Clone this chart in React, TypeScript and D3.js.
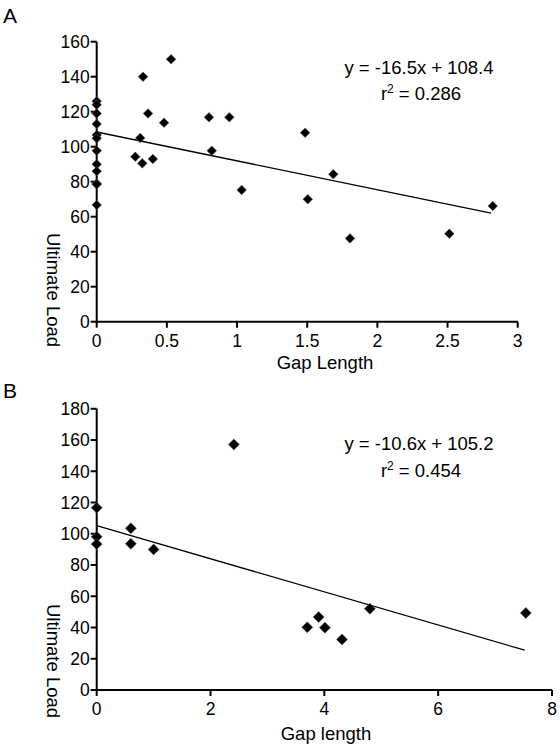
import React from "react";
import * as d3 from "d3";

// Panel A data
const gapA = [0, 0, 0, 0, 0, 0, 0, 0, 0, 0, 0, 0, 0.53, 0.33, 0.366, 0.48, 0.31, 0.275, 0.325, 0.4, 0.8, 0.945, 0.82, 1.485, 1.686, 1.033, 1.504, 1.805, 2.513, 2.822];
const loadA = [126, 124, 119, 113, 106.7, 104.8, 97.7, 90, 86, 79, 78.5, 66.7, 150, 140, 119, 113.7, 105, 94.3, 90.5, 93, 116.8, 116.8, 97.7, 108, 84.3, 75.3, 70, 47.6, 50.3, 66.1];
const fitA = { slope: -16.5, intercept: 108.4, xEnd: 2.81 };
const ticksXA = [0, 0.5, 1, 1.5, 2, 2.5, 3];
const ticksYA = [0, 20, 40, 60, 80, 100, 120, 140, 160];

// Panel B data
const gapB = [0, 0, 0, 0.6, 0.6, 1.0, 2.41, 3.7, 3.9, 4.01, 4.31, 4.8, 7.54];
const loadB = [116.7, 98.1, 93.4, 103.5, 93.6, 90, 157.2, 40.1, 46.7, 39.9, 32.4, 52, 49.3];
const fitB = { slope: -10.6, intercept: 105.2, xEnd: 7.52 };
const ticksXB = [0, 2, 4, 6, 8];
const ticksYB = [0, 20, 40, 60, 80, 100, 120, 140, 160, 180];

const FONT = "'Liberation Sans', Arial, sans-serif";

type PanelProps = {
  letter: string;
  letterY: number;
  xs: number[];
  ys: number[];
  fit: { slope: number; intercept: number; xEnd: number };
  xTicks: number[];
  yTicks: number[];
  xDomain: [number, number];
  yDomain: [number, number];
  xRange: [number, number];
  yRange: [number, number];
  xLabel: string;
  xLabelX: number;
  xLabelY: number;
  yLabelY: number;
  eq: string;
  r2: string;
  eqX: number;
  eqY: number;
  r2Gap: number;
  marker: number;
};

function Panel(p: PanelProps) {
  const x = d3.scaleLinear().domain(p.xDomain).range(p.xRange);
  const y = d3.scaleLinear().domain(p.yDomain).range(p.yRange);
  const y0 = p.yRange[0];
  const x0 = p.xRange[0];
  const line = d3.line<number>().x((d) => x(d)).y((d) => y(p.fit.slope * d + p.fit.intercept));
  const fmt = (v: number) => String(v);
  const m = p.marker;
  return (
    <g fontFamily={FONT} fill="#000">
      <text x={3} y={p.letterY} fontSize={21}>{p.letter}</text>
      <line x1={x0} x2={x0} y1={y0 + 1} y2={p.yRange[1]} stroke="#000" strokeWidth={2} />
      <line x1={x0 - 1} x2={p.xRange[1]} y1={y0} y2={y0} stroke="#000" strokeWidth={2} />
      {p.yTicks.map((t) => (
        <g key={"y" + t}>
          <line x1={x0 - 6} x2={x0} y1={y(t)} y2={y(t)} stroke="#000" strokeWidth={2} />
          <text x={x0 - 7} y={y(t)} dy="0.36em" textAnchor="end" fontSize={17.5}>{fmt(t)}</text>
        </g>
      ))}
      {p.xTicks.map((t) => (
        <g key={"x" + t}>
          <line x1={x(t)} x2={x(t)} y1={y0} y2={y0 + 6} stroke="#000" strokeWidth={2} />
          <text x={x(t)} y={y0 + 25} textAnchor="middle" fontSize={17.5}>{fmt(t)}</text>
        </g>
      ))}
      <text x={p.xLabelX} y={p.xLabelY} textAnchor="middle" fontSize={18.5}>{p.xLabel}</text>
      <text transform={`translate(47,${p.yLabelY}) rotate(90)`} textAnchor="middle" fontSize={18.5}>Ultimate Load</text>
      <path d={line([0, p.fit.xEnd]) || ""} stroke="#000" strokeWidth={1.3} fill="none" />
      {p.xs.map((gx, i) => {
        const cx = x(gx);
        const cy = y(p.ys[i]);
        return (
          <path
            key={i}
            d={`M${cx},${cy - m}L${cx + m},${cy}L${cx},${cy + m}L${cx - m},${cy}Z`}
            fill="#000"
            stroke="#555"
            strokeWidth={0.6}
          />
        );
      })}
      <text x={p.eqX} y={p.eqY} textAnchor="middle" fontSize={18.5}>{p.eq}</text>
      <text x={p.eqX + 2} y={p.eqY + p.r2Gap} textAnchor="middle" fontSize={18.5}>
        r<tspan fontSize={12} dy={-7}>2</tspan><tspan dy={7}> = {p.r2}</tspan>
      </text>
    </g>
  );
}

export default function App() {
  return (
    <svg width={560} height={747} style={{ position: "absolute", left: 0, top: 0, background: "#fff" }}>
      <rect width={560} height={747} fill="#fff" />
      <Panel
        letter="A"
        letterY={23}
        xs={gapA}
        ys={loadA}
        fit={fitA}
        xTicks={ticksXA}
        yTicks={ticksYA}
        xDomain={[0, 3]}
        yDomain={[0, 160]}
        xRange={[96.7, 517.7]}
        yRange={[321.7, 41.7]}
        xLabel="Gap Length"
        xLabelX={325}
        xLabelY={369}
        yLabelY={290}
        eq="y = -16.5x + 108.4"
        r2="0.286"
        eqX={419}
        eqY={74}
        r2Gap={25.5}
        marker={4.8}
      />
      <Panel
        letter="B"
        letterY={398}
        xs={gapB}
        ys={loadB}
        fit={fitB}
        xTicks={ticksXB}
        yTicks={ticksYB}
        xDomain={[0, 8]}
        yDomain={[0, 180]}
        xRange={[96.7, 552]}
        yRange={[690, 408.75]}
        xLabel="Gap length"
        xLabelX={326}
        xLabelY={740}
        yLabelY={661}
        eq="y = -10.6x + 105.2"
        r2="0.454"
        eqX={419}
        eqY={450}
        r2Gap={27}
        marker={5.5}
      />
    </svg>
  );
}
